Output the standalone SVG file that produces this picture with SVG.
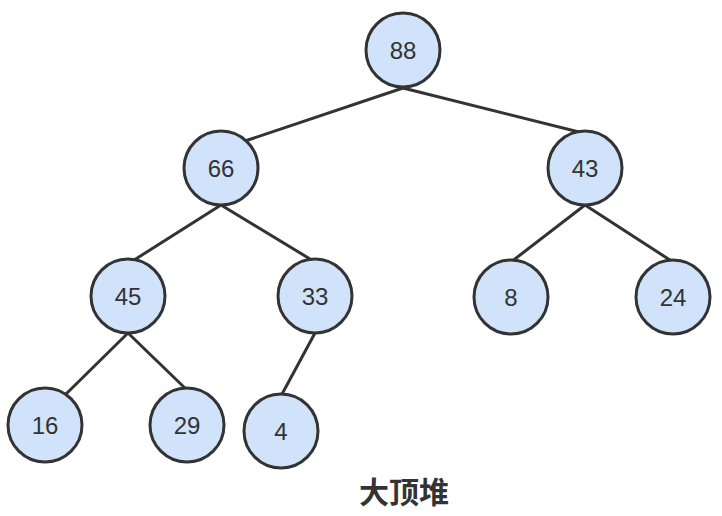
<svg xmlns="http://www.w3.org/2000/svg" width="722" height="516" viewBox="0 0 722 516">
<style>
.n circle{fill:#d0e3fb;stroke:#333;stroke-width:3}
.n text{font-family:"Helvetica","Liberation Sans","Noto Sans",sans-serif;font-size:24px;fill:#333;text-anchor:middle;dominant-baseline:central}
#edges line{stroke:#333;stroke-width:3;stroke-linecap:round}
.cap{font-family:"Noto Sans CJK SC",sans-serif;font-size:30px;font-weight:bold;fill:#333;text-anchor:middle}
</style>
<rect width="722" height="516" fill="#fff"/>
<g id="edges">
<line x1="403" y1="88" x2="245" y2="141"/>
<line x1="403" y1="88" x2="587" y2="134"/>
<line x1="221" y1="205" x2="131" y2="262"/>
<line x1="221" y1="205" x2="315" y2="262"/>
<line x1="585" y1="205" x2="511" y2="262"/>
<line x1="585" y1="205" x2="673" y2="262"/>
<line x1="128" y1="333" x2="66" y2="394"/>
<line x1="128" y1="333" x2="187" y2="390"/>
<line x1="315" y1="333" x2="281" y2="396"/>
</g>
<g id="n88" class="n"><circle cx="403" cy="50" r="37"/><text x="403" y="50">88</text></g>
<g id="n66" class="n"><circle cx="221" cy="168" r="37"/><text x="221" y="168">66</text></g>
<g id="n43" class="n"><circle cx="585" cy="168" r="37"/><text x="585" y="168">43</text></g>
<g id="n45" class="n"><circle cx="128" cy="296" r="37"/><text x="128" y="296">45</text></g>
<g id="n33" class="n"><circle cx="315" cy="296" r="37"/><text x="315" y="296">33</text></g>
<g id="n8" class="n"><circle cx="511" cy="297" r="37"/><text x="511" y="297">8</text></g>
<g id="n24" class="n"><circle cx="673" cy="297" r="37"/><text x="673" y="297">24</text></g>
<g id="n16" class="n"><circle cx="45" cy="425" r="37"/><text x="45" y="425">16</text></g>
<g id="n29" class="n"><circle cx="187" cy="425" r="37"/><text x="187" y="425">29</text></g>
<g id="n4" class="n"><circle cx="281" cy="431" r="37"/><text x="281" y="431">4</text></g>
<text class="cap" x="404" y="503">大顶堆</text>
</svg>
